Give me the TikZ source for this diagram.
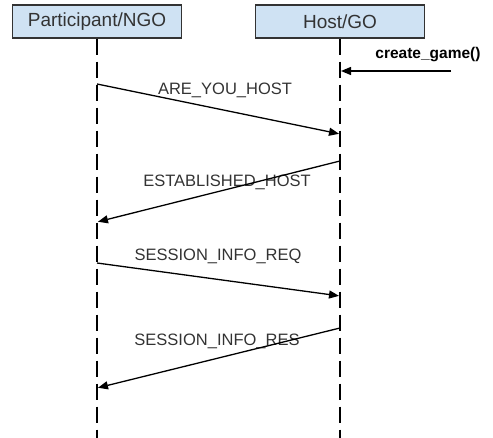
\documentclass[tikz,border=0pt]{standalone}
\usepackage{fontspec}
\setmainfont{Liberation Sans}
\usetikzlibrary{arrows.meta,positioning,calc}
\definecolor{actorbg}{HTML}{CFE2F3}
\definecolor{actorborder}{HTML}{333333}
\definecolor{labelgray}{HTML}{333333}

\begin{document}
\begin{tikzpicture}[
    x=1pt, y=-1pt,
    >={Triangle[length=10pt,width=8pt]},
    actorbox/.style={
        draw=actorborder, fill=actorbg,
        minimum width=169pt, minimum height=33pt,
        inner sep=0pt, line width=1.2pt,
        font=\fontsize{19}{22}\selectfont, text=labelgray
    },
    lifeline/.style={
        line width=2pt, dash pattern=on 16.5pt off 6.5pt
    },
    msgarrow/.style={
        ->, line width=1.3pt, shorten >=1pt
    },
    msglabel/.style={
        font=\fontsize{16.5}{19}\selectfont, text=labelgray
    },
    calllabel/.style={
        font=\bfseries\fontsize{15.5}{18}\selectfont
    },
]
\useasboundingbox (0,0) rectangle (493,438);

% ===== Actors =====
\node[actorbox] (ngo) at (97,21.5) {Participant/NGO};
\node[actorbox] (go) at (340,21.5) {Host/GO};

% ===== Lifelines =====
\coordinate (ngoend) at (ngo |- 0,438);
\coordinate (goend) at (go |- 0,438);
\draw[lifeline] (ngo.south) -- (ngoend);
\draw[lifeline] (go.south) -- (goend);

% ===== Message points on the lifelines =====
\coordinate (call) at (451,71);
\coordinate (callend) at (go |- 0,71);
\coordinate (m1s) at (ngo |- 0,84);
\coordinate (m1e) at (go |- 0,134);
\coordinate (m2s) at (go |- 0,161);
\coordinate (m2e) at (ngo |- 0,222);
\coordinate (m3s) at (ngo |- 0,263);
\coordinate (m3e) at (go |- 0,296);
\coordinate (m4s) at (go |- 0,328);
\coordinate (m4e) at (ngo |- 0,388);

% ===== Labels =====
\node[calllabel] (calltext) at (428,55) {create\_game()};
\node[msglabel] (m1label) at (225,90) {ARE\_YOU\_HOST};
\node[msglabel] (m2label) at (227,182) {ESTABLISHED\_HOST};
\node[msglabel] (m3label) at (218,256) {SESSION\_INFO\_REQ};
\node[msglabel] (m4label) at (217,341) {SESSION\_INFO\_RES};

% ===== Messages =====
\draw[msgarrow] (call) -- (callend);
\draw[msgarrow] (m1s) -- (m1e);
\draw[msgarrow] (m2s) -- (m2e);
\draw[msgarrow] (m3s) -- (m3e);
\draw[msgarrow] (m4s) -- (m4e);

\end{tikzpicture}
\end{document}
